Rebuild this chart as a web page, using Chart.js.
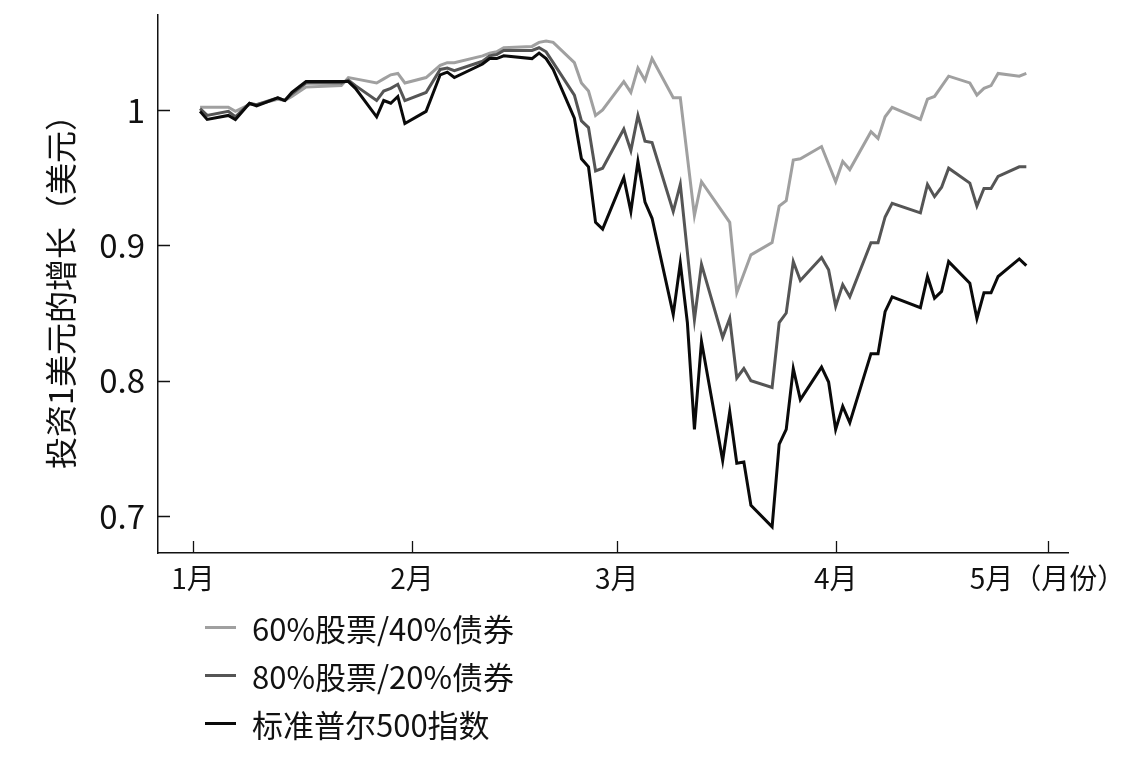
<!DOCTYPE html>
<html>
<head>
<meta charset="utf-8">
<script src="https://cdn.jsdelivr.net/npm/chart.js@4"></script>
<style>
  body { margin: 0; background: #fff; }
  #wrap { position: relative; width: 1146px; height: 758px; }
  #legend { position: absolute; left: 205px; top: 603px; font-family: 'Noto Sans CJK SC', 'Noto Sans', sans-serif; font-size: 31px; color: #111; }
  .item { height: 48px; display: flex; align-items: center; }
  .swatch { width: 31px; height: 3px; margin-right: 16px; }
</style>
</head>
<body>
<div id="wrap">
  <canvas id="chart" width="1146" height="758"></canvas>
  <div id="legend"></div>
</div>
<script>
// trading days, 2020
let dates = ['01-02','01-03','01-06','01-07','01-09','01-10','01-13','01-14','01-15','01-17','01-22','01-23','01-24','01-27','01-28','01-29','01-30','01-31',
    '02-03','02-05','02-06','02-07','02-11','02-12','02-13','02-14','02-18','02-19','02-20','02-21','02-24','02-25','02-26','02-27','02-28',
    '03-02','03-03','03-04','03-05','03-06','03-09','03-10','03-11','03-12','03-13','03-16','03-17','03-18','03-19','03-20','03-23','03-24','03-25','03-26','03-27','03-30','03-31',
    '04-01','04-02','04-03','04-06','04-07','04-08','04-09','04-13','04-14','04-15','04-16','04-17','04-20','04-21','04-22','04-23','04-24','04-27','04-28']

let sp500 = [0.999,0.993,0.996,0.993,1.005,1.003,1.009,1.007,1.013,1.021,1.021,1.021,1.016,0.995,1.007,1.005,1.010,0.990,
    0.999,1.026,1.028,1.024,1.034,1.038,1.038,1.040,1.038,1.042,1.038,1.030,0.994,0.964,0.958,0.917,0.912,
    0.950,0.925,0.962,0.932,0.920,0.849,0.887,0.843,0.764,0.829,0.741,0.777,0.739,0.740,0.708,0.692,0.753,0.764,0.809,0.786,0.810,0.799,
    0.764,0.781,0.769,0.820,0.820,0.851,0.862,0.854,0.877,0.861,0.866,0.888,0.872,0.846,0.865,0.865,0.877,0.890,0.885]

let mix8020 = [1.001,0.996,0.999,0.995,1.005,1.004,1.009,1.007,1.012,1.020,1.020,1.022,1.018,1.007,1.014,1.016,1.019,1.007,
    1.013,1.030,1.031,1.029,1.036,1.040,1.041,1.044,1.044,1.046,1.043,1.035,1.011,0.992,0.987,0.955,0.957,
    0.986,0.970,0.996,0.977,0.976,0.925,0.945,null,0.845,0.886,0.832,0.846,0.802,0.809,0.800,0.795,0.843,0.850,0.888,0.874,0.891,0.882,
    0.855,0.871,0.862,0.902,0.902,0.921,0.931,0.924,0.945,0.936,0.943,0.957,0.946,0.929,0.942,0.942,0.951,0.958,0.958]

let mix6040 = [1.002,1.002,1.002,0.999,1.004,1.004,1.008,1.007,1.010,1.017,1.018,1.024,1.023,1.020,1.023,1.026,1.027,1.020,
    1.024,1.033,1.035,1.035,1.040,1.042,1.043,1.046,1.047,1.050,1.051,1.050,1.035,1.020,1.014,0.996,1.000,
    1.021,1.013,1.031,1.022,1.038,1.009,1.009,null,0.922,0.947,null,0.917,0.865,null,0.893,0.902,0.929,0.933,0.963,0.964,0.973,null,
    0.947,0.962,0.956,0.984,0.979,0.995,1.002,0.993,1.008,1.010,null,1.025,1.020,1.011,1.016,1.018,1.027,1.025,1.027]

let seriesNames = ['60%股票/40%债券', '80%股票/20%债券', '标准普尔500指数']
let seriesColors = ['#a0a0a0', '#555555', '#0a0a0a']

let monthTicks = ['01-01', '02-01', '03-01', '04-01', '05-01']
let monthLabels = ['1月', '2月', '3月', '4月', '5月（月份）']
let yTicks = [0.7, 0.8, 0.9, 1]

const FONT = "'Noto Sans CJK SC', 'Noto Sans', sans-serif"

function dayOf(md) {
    let [m, d] = md.split('-').map(Number)
    return (Date.UTC(2020, m - 1, d) - Date.UTC(2020, 0, 1)) / 864e5
}

function points(values) {
    return dates.map((d, i) => ({ x: dayOf(d), y: values[i] }))
}

// inward tick marks
const tickMarks = {
    id: 'tickMarks',
    afterDraw(chart) {
        let ctx = chart.ctx
        let xs = chart.scales.x, ys = chart.scales.y
        ctx.save()
        ctx.strokeStyle = '#111'
        ctx.lineWidth = 1.3
        ctx.beginPath()
        xs.ticks.forEach(t => {
            let px = Math.round(xs.getPixelForValue(t.value)) + 0.5
            ctx.moveTo(px, ys.bottom)
            ctx.lineTo(px, ys.bottom - 12)
        })
        ys.ticks.forEach(t => {
            let py = Math.round(ys.getPixelForValue(t.value)) + 0.5
            ctx.moveTo(xs.left, py)
            ctx.lineTo(xs.left + 12, py)
        })
        ctx.stroke()
        ctx.restore()
    }
}

const ctx = document.getElementById('chart')
const chart = new Chart(ctx, {
    type: 'line',
    data: {
        datasets: [0, 1, 2].map(i => ({
            label: seriesNames[i],
            data: points([mix6040, mix8020, sp500][i]),
            borderColor: seriesColors[i],
            borderWidth: 3,
            pointRadius: 0,
            tension: 0,
            spanGaps: true,
            order: 2 - i
        }))
    },
    options: {
        responsive: false,
        animation: false,
        layout: { padding: { left: 0, top: 15, right: 78, bottom: 0 } },
        scales: {
            x: {
                type: 'linear',
                min: -4.96,
                max: 123.9,
                afterBuildTicks: s => { s.ticks = monthTicks.map(m => ({ value: dayOf(m) })) },
                afterFit: s => { s.height = 205; s.paddingLeft = 0; s.paddingRight = 0 },
                ticks: {
                    padding: 9,
                    color: '#111',
                    font: { family: FONT, size: 28 },
                    maxRotation: 0,
                    autoSkip: false,
                    callback: (v, i) => monthLabels[i]
                },
                grid: { display: false, drawTicks: false },
                border: { display: true, color: '#111', width: 1.5 }
            },
            y: {
                min: 0.6727,
                max: 1.0702,
                afterBuildTicks: s => { s.ticks = yTicks.map(v => ({ value: v })) },
                afterFit: s => { s.width = 158; s.paddingTop = 0; s.paddingBottom = 0 },
                ticks: {
                    padding: 13,
                    color: '#111',
                    font: { family: FONT, size: 33 },
                    callback: v => String(v)
                },
                title: {
                    display: true,
                    text: '投资1美元的增长（美元）',
                    color: '#111',
                    font: { family: FONT, size: 32 },
                    padding: { top: 42, bottom: 0 }
                },
                grid: { display: false, drawTicks: false },
                border: { display: true, color: '#111', width: 1.5 }
            }
        },
        plugins: {
            legend: { display: false },
            tooltip: { enabled: false }
        }
    },
    plugins: [tickMarks]
})

// legend as a column below the axis
let legend = document.getElementById('legend')
seriesNames.forEach((name, i) => {
    let row = document.createElement('div')
    row.className = 'item'
    row.innerHTML = '<span class="swatch" style="background:' + seriesColors[i] + '"></span><span>' + name + '</span>'
    legend.appendChild(row)
})
</script>
</body>
</html>
